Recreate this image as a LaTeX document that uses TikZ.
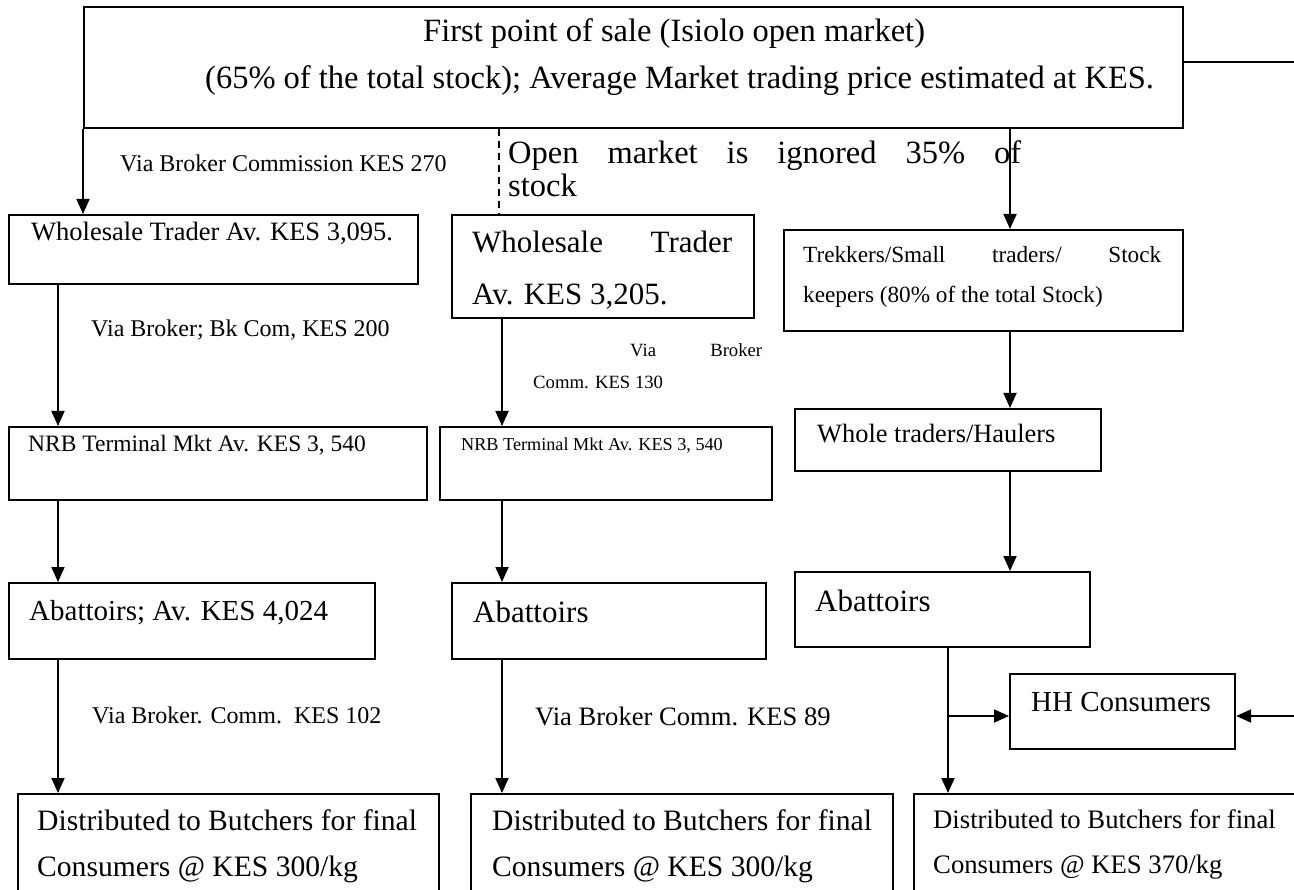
\documentclass[tikz,border=0pt]{standalone}
\usepackage{fontspec}
\setmainfont{Liberation Serif}
\usetikzlibrary{arrows.meta,calc}
\newcommand\fsz[1]{\fontsize{#1pt}{#1pt}\selectfont}
\tikzset{
  box/.style={draw, line width=2.2pt, anchor=north west, inner sep=0pt},
  txt/.style={anchor=base west, inner sep=0pt},
  arr/.style={line width=1.8pt, -{Triangle[length=15pt,width=13pt]}},
  ln/.style={line width=1.8pt},
  dsh/.style={line width=1.6pt, dash pattern=on 7pt off 5pt},
}
\begin{document}
\begin{tikzpicture}[x=1pt,y=-1pt]
\useasboundingbox (0,0) rectangle (1294,890);
\clip (0,0) rectangle (1294,890);
% boxes
\node[box, minimum width=1099pt, minimum height=121pt] (T) at (83,6) {};
\node[box, minimum width=409.5pt, minimum height=69pt] (W1) at (7.5,214) {};
\node[box, minimum width=302pt, minimum height=103pt] (W2) at (451,214) {};
\node[box, minimum width=399pt, minimum height=101pt] (Tr) at (783,229) {};
\node[box, minimum width=418.5pt, minimum height=73pt] (N1) at (7.5,426) {};
\node[box, minimum width=332pt, minimum height=73pt] (N2) at (439,426) {};
\node[box, minimum width=306pt, minimum height=62pt] (WT) at (794,408) {};
\node[box, minimum width=366.5pt, minimum height=76pt] (A1) at (7.5,582) {};
\node[box, minimum width=314pt, minimum height=76pt] (A2) at (451,582) {};
\node[box, minimum width=295pt, minimum height=75pt] (A3) at (794,571) {};
\node[box, minimum width=225pt, minimum height=75pt] (HH) at (1009,673) {};
\node[box, minimum width=421.4pt, minimum height=150pt] (B1) at (16.6,793) {};
\node[box, minimum width=422pt, minimum height=150pt] (B2) at (470,793) {};
\node[box, minimum width=420pt, minimum height=150pt] (B3) at (913,793) {};
% texts
\node[txt, font=\fsz{32.5}] (tT1) at (423,42) {First point of sale (Isiolo open market)};
\node[txt, font=\fsz{32.5}] (tT2) at (205,89) {(65\% of the total stock); Average Market trading price estimated at KES.};
\node[txt, font=\fsz{24}] (tV1) at (120,172) {Via Broker Commission KES 270};
\node[txt, font=\fsz{32.5}] (tOMa) at (508,164) {\makebox[513pt][s]{Open market is ignored 35\% of}};
\node[txt, font=\fsz{32.5}] (tOMb) at (508,197) {stock};
\node[txt, font=\fsz{26.5}] (tW1) at (31,241) {Wholesale Trader Av. KES 3,095.};
\node[txt, font=\fsz{31}] (tW2a) at (472,253) {\makebox[260pt][s]{Wholesale Trader}};
\node[txt, font=\fsz{31}] (tW2b) at (472,305) {Av. KES 3,205.};
\node[txt, font=\fsz{24}] (tV2) at (91,337) {Via Broker; Bk Com, KES 200};
\node[txt, font=\fsz{18.7}] (tV3a) at (630,357) {\makebox[132pt][s]{Via Broker}};
\node[txt, font=\fsz{18.7}] (tV3b) at (533,389) {Comm. KES 130};
\node[txt, font=\fsz{23.2}] (tTr1) at (803,263) {\makebox[358pt][s]{Trekkers/Small traders/ Stock}};
\node[txt, font=\fsz{23.2}] (tTr2) at (803,303) {keepers (80\% of the total Stock)};
\node[txt, font=\fsz{23.5}] (tN1) at (28,452) {NRB Terminal Mkt Av. KES 3, 540};
\node[txt, font=\fsz{18.2}] (tN2) at (461,451) {NRB Terminal Mkt Av. KES 3, 540};
\node[txt, font=\fsz{26.4}] (tWT) at (817,443) {Whole traders/Haulers};
\node[txt, font=\fsz{29}] (tA1) at (29,620) {Abattoirs; Av. KES 4,024};
\node[txt, font=\fsz{31}] (tA2) at (473,622) {Abattoirs};
\node[txt, font=\fsz{31}] (tA3) at (815,611) {Abattoirs};
\node[txt, font=\fsz{24}] (tV4) at (92,723) {Via Broker. Comm.\ \ KES 102};
\node[txt, font=\fsz{26.6}] (tV5) at (535,725) {Via Broker Comm. KES 89};
\node[txt, font=\fsz{29}] (tHH) at (1031,711) {HH Consumers};
\node[txt, font=\fsz{29.6}] (tB1a) at (37,830) {Distributed to Butchers for final};
\node[txt, font=\fsz{29.6}] (tB1b) at (37,876) {Consumers @ KES 300/kg};
\node[txt, font=\fsz{29.6}] (tB2a) at (492,830) {Distributed to Butchers for final};
\node[txt, font=\fsz{29.6}] (tB2b) at (492,876) {Consumers @ KES 300/kg};
\node[txt, font=\fsz{26.7}] (tB3a) at (933,828) {Distributed to Butchers for final};
\node[txt, font=\fsz{26.7}] (tB3b) at (933,873) {Consumers @ KES 370/kg};
% helper coordinates
\coordinate (cL) at (58,0);
\coordinate (cM) at (502,0);
\coordinate (cD) at (499,0);
\coordinate (cR) at (1010,0);
\coordinate (cH) at (948,0);
\coordinate (hb) at (948,716);
\coordinate (re) at (1294,716);
\coordinate (te) at (1294,62);
% connectors
\draw[arr] (T.south west) -- (T.south west |- W1.north);
\draw[dsh] (T.south -| cD) -- (W2.north -| cD);
\draw[arr] (T.south -| cR) -- (Tr.north -| cR);
\draw[ln] (T.east |- te) -- (te);
\draw[arr] (W1.south -| cL) -- (N1.north -| cL);
\draw[arr] (W2.south -| cM) -- (N2.north -| cM);
\draw[arr] (Tr.south -| cR) -- (WT.north -| cR);
\draw[arr] (N1.south -| cL) -- (A1.north -| cL);
\draw[arr] (N2.south -| cM) -- (A2.north -| cM);
\draw[arr] (WT.south -| cR) -- (A3.north -| cR);
\draw[arr] (A1.south -| cL) -- (B1.north -| cL);
\draw[arr] (A2.south -| cM) -- (B2.north -| cM);
\draw[arr] (A3.south -| cH) -- (B3.north -| cH);
\draw[arr] (hb) -- (hb -| HH.west);
\draw[arr] (re) -- (re -| HH.east);
\end{tikzpicture}
\end{document}
